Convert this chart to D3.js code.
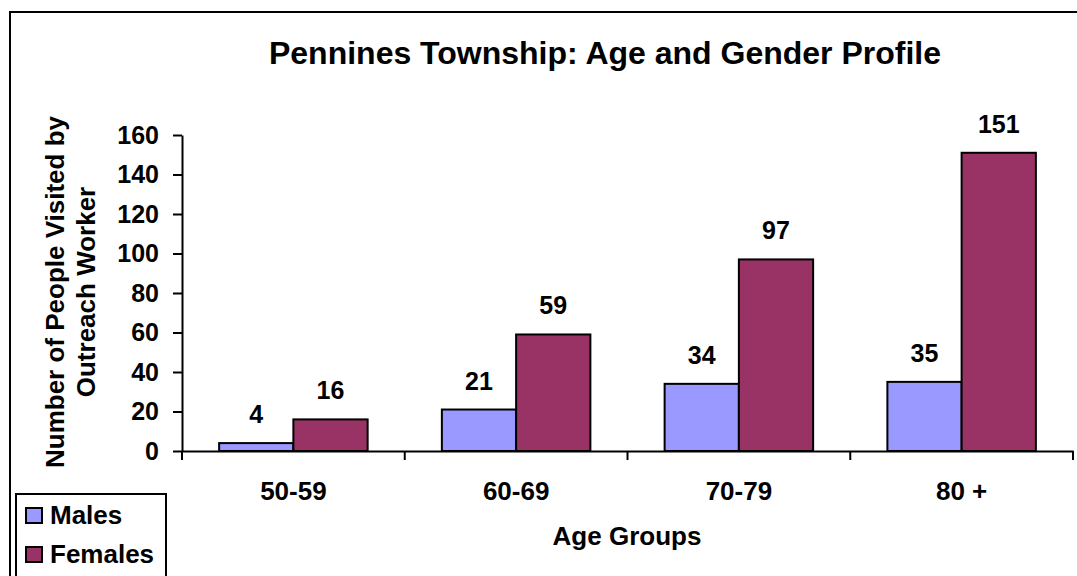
<!DOCTYPE html>
<html>
<head>
<meta charset="utf-8">
<script src="https://cdn.jsdelivr.net/npm/d3@7"></script>
<style>
  body { margin: 0; background: #fff; }
  svg text { font-family: Arial, "Liberation Sans", sans-serif; font-weight: bold; fill: #000; }
</style>
</head>
<body>
<svg id="chart" width="1077" height="576"></svg>
<script>
// datos
const categorias = ['50-59', '60-69', '70-79', '80 +'];
const series = ['Males', 'Females'];
const hombres = [4, 21, 34, 35];
const mujeres = [16, 59, 97, 151];
const ticksY = [0, 20, 40, 60, 80, 100, 120, 140, 160];
const colores = ['#9999ff', '#993366'];

const svg = d3.select('#chart');

// marco exterior (solo izquierda y arriba visibles)
svg.append('path')
  .attr('d', 'M10,576 L10,12 L1077,12')
  .attr('fill', 'none')
  .attr('stroke', '#000')
  .attr('stroke-width', 2);

const area = { izq: 182, der: 1073, arriba: 135, abajo: 451 };

const escalaX = d3.scaleBand()
  .domain(categorias)
  .range([area.izq, area.der]);

const escalaSub = d3.scaleBand()
  .domain(series)
  .range([0, escalaX.bandwidth()])
  .paddingOuter(0.5)
  .paddingInner(0);

const escalaY = d3.scaleLinear()
  .domain([0, 160])
  .range([area.abajo, area.arriba]);

// titulo
svg.append('text')
  .attr('x', 605)
  .attr('y', 64)
  .attr('text-anchor', 'middle')
  .style('font-size', '32px')
  .text('Pennines Township: Age and Gender Profile');

// barras
const datos = categorias.map((c, i) => ({ cat: c, valores: [hombres[i], mujeres[i]] }));

const grupos = svg.append('g')
  .selectAll('g')
  .data(datos)
  .enter()
  .append('g')
  .attr('transform', d => `translate(${escalaX(d.cat)},0)`);

grupos.selectAll('rect')
  .data(d => d.valores.map((v, j) => ({ serie: series[j], v: v, j: j })))
  .enter()
  .append('rect')
  .attr('x', d => escalaSub(d.serie))
  .attr('y', d => escalaY(d.v))
  .attr('width', escalaSub.bandwidth())
  .attr('height', d => escalaY(0) - escalaY(d.v))
  .attr('fill', d => colores[d.j])
  .attr('stroke', '#000')
  .attr('stroke-width', 2);

grupos.selectAll('text')
  .data(d => d.valores.map((v, j) => ({ serie: series[j], v: v })))
  .enter()
  .append('text')
  .attr('x', d => escalaSub(d.serie) + escalaSub.bandwidth() / 2)
  .attr('y', d => escalaY(d.v) - 20)
  .attr('text-anchor', 'middle')
  .style('font-size', '25px')
  .text(d => d.v);

// eje y
const ejeY = svg.append('g')
  .attr('transform', `translate(${area.izq},0)`)
  .call(d3.axisLeft(escalaY).tickValues(ticksY).tickSize(9).tickPadding(14).tickSizeOuter(0));
ejeY.select('.domain').attr('stroke-width', 2);
ejeY.selectAll('.tick line').attr('stroke-width', 2);
ejeY.selectAll('.tick text').style('font-size', '25px').style('font-family', null);

// eje x
const ejeX = svg.append('g')
  .attr('transform', `translate(0,${area.abajo})`)
  .call(d3.axisBottom(escalaX).tickSize(0).tickPadding(31));
ejeX.select('.domain').attr('stroke-width', 2);
ejeX.selectAll('.tick text').style('font-size', '26px').style('font-family', null);

// marcas entre categorias
const bordes = categorias.map(c => escalaX(c)).concat([escalaX.range()[1]]);
svg.append('g')
  .selectAll('line')
  .data(bordes)
  .enter()
  .append('line')
  .attr('x1', d => d)
  .attr('x2', d => d)
  .attr('y1', area.abajo)
  .attr('y2', area.abajo + 9)
  .attr('stroke', '#000')
  .attr('stroke-width', 2);

// titulos de ejes
svg.append('text')
  .attr('x', 627)
  .attr('y', 545)
  .attr('text-anchor', 'middle')
  .style('font-size', '26px')
  .text('Age Groups');

const etiquetaY = svg.append('text')
  .attr('transform', 'translate(0,292) rotate(-90)')
  .attr('text-anchor', 'middle')
  .style('font-size', '26px');
etiquetaY.append('tspan').attr('x', 0).attr('y', 64).text('Number of People Visited by');
etiquetaY.append('tspan').attr('x', 0).attr('y', 95).text('Outreach Worker');

// leyenda
const leyenda = svg.append('g');
leyenda.append('rect')
  .attr('x', 16)
  .attr('y', 494)
  .attr('width', 150)
  .attr('height', 100)
  .attr('fill', '#fff')
  .attr('stroke', '#000')
  .attr('stroke-width', 2);

const items = leyenda.selectAll('g')
  .data(series)
  .enter()
  .append('g')
  .attr('transform', (d, i) => `translate(0,${508 + i * 39})`);

items.append('rect')
  .attr('x', 26)
  .attr('y', 0)
  .attr('width', 16)
  .attr('height', 15)
  .attr('fill', (d, i) => colores[i])
  .attr('stroke', '#000')
  .attr('stroke-width', 2);

items.append('text')
  .attr('x', 50)
  .attr('y', 16)
  .style('font-size', '26px')
  .text(d => d);
</script>
</body>
</html>
